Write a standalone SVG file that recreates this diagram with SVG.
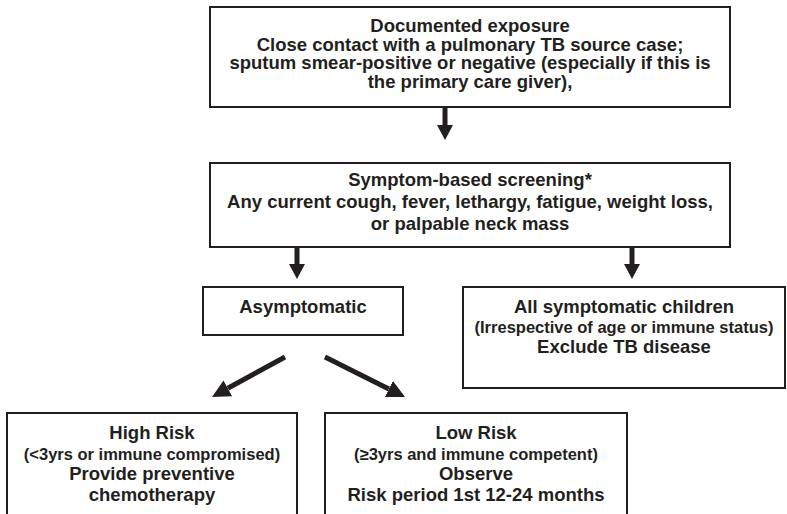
<svg xmlns="http://www.w3.org/2000/svg" width="787" height="514" viewBox="0 0 787 514">
<style>
.box{fill:#fff;stroke:#231f20;stroke-width:2}
.t{font-family:"Liberation Sans",Arial,sans-serif;font-weight:bold;font-size:18.5px;fill:#231f20;text-anchor:middle}
.s{font-size:16.5px}
.c{stroke:#231f20;stroke-width:5;fill:none}
</style>
<defs>
<marker id="hv" viewBox="0 0 15 16" refX="0" refY="8" markerWidth="15" markerHeight="16" markerUnits="userSpaceOnUse" orient="auto"><path d="M0,0 L15,8 L0,16 Z" fill="#231f20"/></marker>
<marker id="hd" viewBox="0 0 18 18" refX="0" refY="9" markerWidth="18" markerHeight="18" markerUnits="userSpaceOnUse" orient="auto"><path d="M0,0 L18,9 L0,18 Z" fill="#231f20"/></marker>
</defs>
<g id="exposure">
<rect class="box" x="210" y="7" width="520" height="100"/>
<text class="t" x="470" y="32">Documented exposure</text>
<text class="t" x="470" y="51">Close contact with a pulmonary TB source case;</text>
<text class="t" x="470" y="69">sputum smear-positive or negative (especially if this is</text>
<text class="t" x="470" y="88">the primary care giver),</text>
</g>
<g id="screening">
<rect class="box" x="210" y="163" width="520" height="84"/>
<text class="t" x="470" y="186">Symptom-based screening*</text>
<text class="t" x="470" y="208">Any current cough, fever, lethargy, fatigue, weight loss,</text>
<text class="t" x="470" y="230">or palpable neck mass</text>
</g>
<g id="asymptomatic">
<rect class="box" x="203" y="287" width="200" height="48"/>
<text class="t" x="303" y="313">Asymptomatic</text>
</g>
<g id="symptomatic">
<rect class="box" x="463" y="287" width="322" height="101"/>
<text class="t" x="624" y="313">All symptomatic children</text>
<text class="t s" x="624" y="333">(Irrespective of age or immune status)</text>
<text class="t" x="624" y="353">Exclude TB disease</text>
</g>
<g id="highrisk">
<rect class="box" x="7" y="413" width="290" height="110"/>
<text class="t" x="152" y="439">High Risk</text>
<text class="t s" x="152" y="460">(&lt;3yrs or immune compromised)</text>
<text class="t" x="152" y="480">Provide preventive</text>
<text class="t" x="152" y="501">chemotherapy</text>
</g>
<g id="lowrisk">
<rect class="box" x="325" y="413" width="302" height="110"/>
<text class="t" x="476" y="439">Low Risk</text>
<text class="t s" x="476" y="460">(≥3yrs and immune competent)</text>
<text class="t" x="476" y="480">Observe</text>
<text class="t" x="476" y="501">Risk period 1st 12-24 months</text>
</g>
<g id="connectors">
<line class="c" x1="445" y1="108" x2="445" y2="125" marker-end="url(#hv)"/>
<line class="c" x1="297" y1="248" x2="297" y2="264" marker-end="url(#hv)"/>
<line class="c" x1="632" y1="248" x2="632" y2="264" marker-end="url(#hv)"/>
<line class="c" x1="285" y1="357" x2="227.8" y2="388.3" marker-end="url(#hd)"/>
<line class="c" x1="325" y1="357" x2="388.9" y2="389" marker-end="url(#hd)"/>
</g>
</svg>
